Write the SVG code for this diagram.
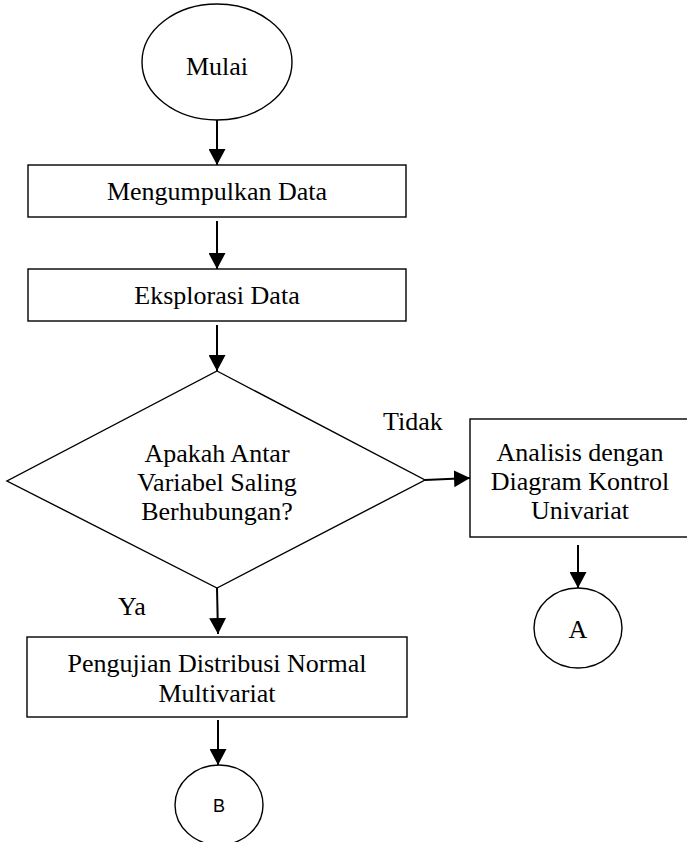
<svg xmlns="http://www.w3.org/2000/svg" width="687" height="842" viewBox="0 0 687 842">
  <style>
    .shape { fill: #ffffff; stroke: #000000; stroke-width: 1.4; }
    .t { font-family: "Liberation Serif", "Times New Roman", serif; font-size: 26px; fill: #000000; text-anchor: middle; }
    .s { font-family: "Liberation Sans", Arial, sans-serif; font-size: 18px; fill: #000000; text-anchor: middle; }
    .lbl { font-family: "Liberation Serif", "Times New Roman", serif; font-size: 26px; fill: #000000; }
    .conn { stroke: #000000; stroke-width: 2; fill: none; marker-end: url(#arrow); }
  </style>
  <defs>
    <marker id="arrow" markerUnits="userSpaceOnUse" markerWidth="17" markerHeight="17" viewBox="0 0 17 17" refX="16" refY="8.5" orient="auto">
      <path d="M0,0 L16,8.5 L0,17 Z" fill="#000000"/>
    </marker>
  </defs>
  <rect width="687" height="842" fill="#ffffff"/>

  <g id="connectors">
    <line class="conn" x1="217" y1="120" x2="217" y2="165"/>
    <line class="conn" x1="217" y1="221" x2="217" y2="269"/>
    <line class="conn" x1="217" y1="325" x2="217" y2="371"/>
    <line class="conn" x1="425" y1="480" x2="470" y2="478"/>
    <line class="conn" x1="217" y1="588" x2="218" y2="634"/>
    <line class="conn" x1="578" y1="545" x2="578" y2="588"/>
    <line class="conn" x1="218" y1="720" x2="218" y2="765"/>
  </g>

  <g id="start">
    <ellipse class="shape" cx="217" cy="62" rx="75" ry="58"/>
    <text class="t" x="217" y="75">Mulai</text>
  </g>

  <g id="collect">
    <rect class="shape" x="28" y="165" width="378" height="52"/>
    <text class="t" x="217" y="200">Mengumpulkan Data</text>
  </g>

  <g id="explore">
    <rect class="shape" x="28" y="269" width="378" height="52"/>
    <text class="t" x="217" y="304">Eksplorasi Data</text>
  </g>

  <g id="decision">
    <polygon class="shape" points="217,371 425,480 217,588 7,481"/>
    <text class="t" x="217" y="462">Apakah Antar</text>
    <text class="t" x="217" y="491">Variabel Saling</text>
    <text class="t" x="217" y="520">Berhubungan?</text>
  </g>

  <g id="label-no">
    <text class="lbl" x="383" y="430">Tidak</text>
  </g>

  <g id="label-yes">
    <text class="lbl" x="118" y="615">Ya</text>
  </g>

  <g id="univariate">
    <rect class="shape" x="470" y="419" width="222" height="118"/>
    <text class="t" x="580" y="461">Analisis dengan</text>
    <text class="t" x="580" y="490">Diagram Kontrol</text>
    <text class="t" x="580" y="519">Univariat</text>
  </g>

  <g id="connector-a">
    <ellipse class="shape" cx="578" cy="628" rx="44" ry="40"/>
    <text class="t" x="578" y="638">A</text>
  </g>

  <g id="normality">
    <rect class="shape" x="27" y="637" width="380" height="80"/>
    <text class="t" x="217" y="672">Pengujian Distribusi Normal</text>
    <text class="t" x="217" y="702">Multivariat</text>
  </g>

  <g id="connector-b">
    <ellipse class="shape" cx="219" cy="805" rx="44" ry="40"/>
    <text class="s" x="219" y="812">B</text>
  </g>
</svg>
